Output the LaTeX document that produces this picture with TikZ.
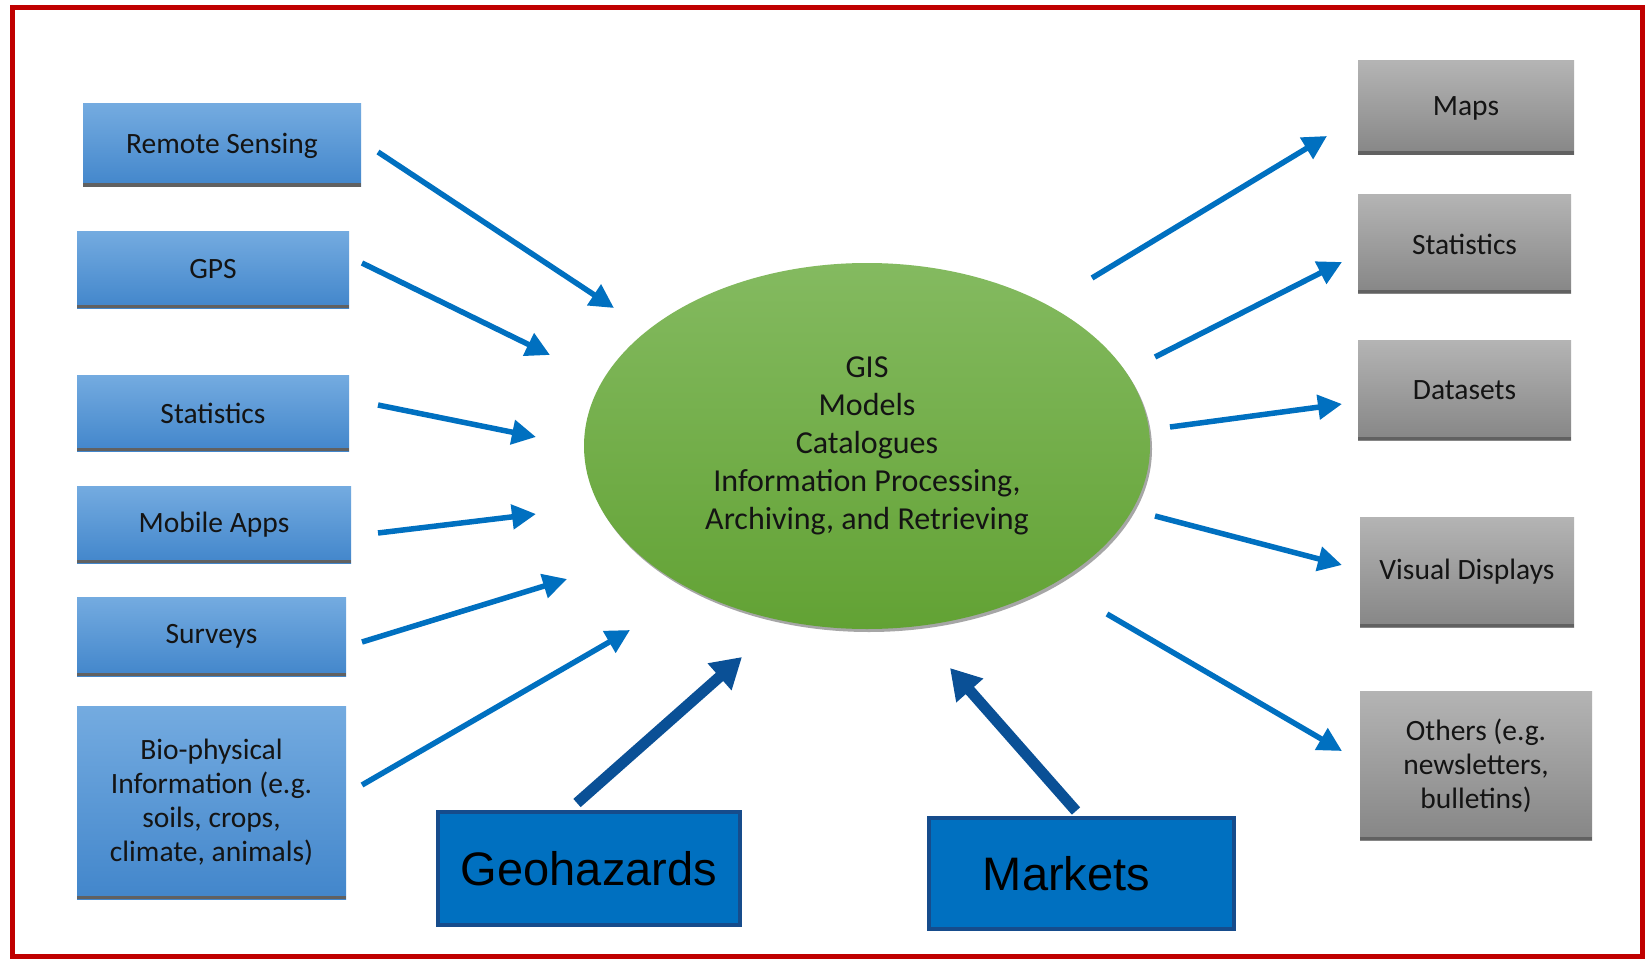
\documentclass[tikz,border=0pt]{standalone}
\usepackage{fontspec}
\setmainfont{Carlito}
\newfontfamily\arialf{Liberation Sans}
\usetikzlibrary{arrows.meta,shapes.geometric,shadows}
\definecolor{blueTop}{RGB}{116,171,224}
\definecolor{blueBot}{RGB}{66,134,203}
\definecolor{grayTop}{RGB}{180,180,180}
\definecolor{grayBot}{RGB}{134,134,134}
\definecolor{greenTop}{RGB}{132,186,96}
\definecolor{greenBot}{RGB}{98,162,52}
\definecolor{arrowBlue}{RGB}{0,112,192}
\definecolor{darkArrow}{RGB}{10,80,150}
\definecolor{geoFill}{RGB}{0,112,192}
\definecolor{geoEdge}{RGB}{22,76,140}
\definecolor{redEdge}{RGB}{192,0,0}
\definecolor{txt}{RGB}{20,20,20}
\tikzset{
  x=1pt,y=-1pt,
  boxbase/.style={rectangle,inner sep=0pt,align=center,text=txt,
    font=\fontsize{29.5}{34}\selectfont,
    path picture={\fill[black!62] (path picture bounding box.south west) rectangle ([yshift=3.5pt]path picture bounding box.south east);}},
  inbox/.style={boxbase,top color=blueTop,bottom color=blueBot},
  outbox/.style={boxbase,top color=grayTop,bottom color=grayBot},
  bigbox/.style={rectangle,inner sep=0pt,fill=geoFill,draw=geoEdge,line width=4pt,
    font=\arialf\fontsize{47}{52}\selectfont,text=black},
  thinarrow/.style={draw=arrowBlue,line width=5.5pt,-{Triangle[length=24pt,width=24pt]}},
  thickarrow/.style={draw=darkArrow,line width=11pt,-{Triangle[length=30pt,width=34pt]}},
}
\begin{document}
\begin{tikzpicture}
\useasboundingbox (0,0) rectangle (1646,960);
\fill[white] (0,0) rectangle (1646,960);
\draw[redEdge,line width=5pt] (12,8) rectangle (1642,956);

% centre ellipse
\fill[black!35] (869,449) ellipse [x radius=283pt,y radius=183pt];
\node[ellipse,minimum width=566pt,minimum height=366pt,inner sep=0pt,
  top color=greenTop,bottom color=greenBot,align=center,text=txt,
  font=\fontsize{32}{38}\selectfont] (gis) at (867,446)
  {GIS\\Models\\Catalogues\\Information Processing,\\Archiving, and Retrieving};

% input boxes
\node[inbox,minimum width=278pt,minimum height=83pt] (rs) at (222,145.5) {Remote Sensing};
\node[inbox,minimum width=272pt,minimum height=77pt] (gps) at (213,269.5) {GPS};
\node[inbox,minimum width=272pt,minimum height=76pt] (stl) at (213,413) {Statistics};
\node[inbox,minimum width=274pt,minimum height=77pt] (mob) at (214,524.5) {Mobile Apps};
\node[inbox,minimum width=269pt,minimum height=79pt] (sur) at (211.5,636.5) {Surveys};
\node[inbox,minimum width=269pt,minimum height=193pt] (bio) at (211.5,802.5)
  {Bio-physical\\Information (e.g.\\soils, crops,\\climate, animals)};

% output boxes
\node[outbox,minimum width=216pt,minimum height=94pt] (maps) at (1466,108) {Maps};
\node[outbox,minimum width=213pt,minimum height=98pt] (str) at (1464.5,244) {Statistics};
\node[outbox,minimum width=213pt,minimum height=100pt] (data) at (1464.5,390) {Datasets};
\node[outbox,minimum width=214pt,minimum height=110pt] (vis) at (1467,572) {Visual Displays};
\node[outbox,minimum width=232pt,minimum height=149pt] (oth) at (1476,765.5)
  {Others (e.g.\\newsletters,\\bulletins)};

% bottom boxes
\node[bigbox,minimum width=302pt,minimum height=113pt] (geo) at (589,868.5) {Geohazards};
\node[bigbox,minimum width=305pt,minimum height=111pt] (mkt) at (1081.5,873.5) {Markets\kern30pt};

% arrow end points
\coordinate (rs-o) at (378,152);   \coordinate (rs-i) at (614,308);
\coordinate (gps-o) at (362,263);  \coordinate (gps-i) at (550,355);
\coordinate (stl-o) at (378,405);  \coordinate (stl-i) at (536,437);
\coordinate (mob-o) at (378,533);  \coordinate (mob-i) at (536,514);
\coordinate (sur-o) at (362,642);  \coordinate (sur-i) at (567,579);
\coordinate (bio-o) at (362,785);  \coordinate (bio-i) at (630,630);
\coordinate (maps-o) at (1092,278); \coordinate (maps-i) at (1327,136);
\coordinate (str-o) at (1155,357);  \coordinate (str-i) at (1342,262);
\coordinate (data-o) at (1170,427); \coordinate (data-i) at (1342,404);
\coordinate (vis-o) at (1155,516);  \coordinate (vis-i) at (1342,565);
\coordinate (oth-o) at (1107,614);  \coordinate (oth-i) at (1342,751);
\coordinate (geo-o) at (577,803);   \coordinate (geo-i) at (742,657);
\coordinate (mkt-o) at (1076,811);  \coordinate (mkt-i) at (950,668);

\draw[thinarrow] (rs-o) -- (rs-i);
\draw[thinarrow] (gps-o) -- (gps-i);
\draw[thinarrow] (stl-o) -- (stl-i);
\draw[thinarrow] (mob-o) -- (mob-i);
\draw[thinarrow] (sur-o) -- (sur-i);
\draw[thinarrow] (bio-o) -- (bio-i);
\draw[thinarrow] (maps-o) -- (maps-i);
\draw[thinarrow] (str-o) -- (str-i);
\draw[thinarrow] (data-o) -- (data-i);
\draw[thinarrow] (vis-o) -- (vis-i);
\draw[thinarrow] (oth-o) -- (oth-i);
\draw[thickarrow] (geo-o) -- (geo-i);
\draw[thickarrow] (mkt-o) -- (mkt-i);
\end{tikzpicture}
\end{document}
